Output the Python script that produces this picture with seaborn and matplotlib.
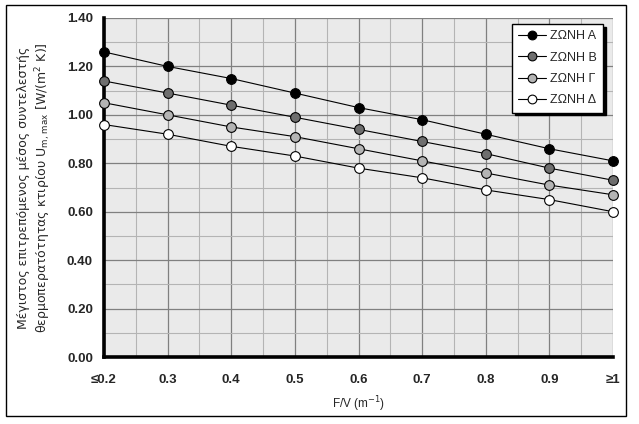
import matplotlib
matplotlib.use("Agg")
import matplotlib.pyplot as plt
import seaborn as sns
import pandas as pd
from matplotlib.patches import Rectangle
from matplotlib.ticker import MultipleLocator, FormatStrFormatter

fv = [0.2, 0.3, 0.4, 0.5, 0.6, 0.7, 0.8, 0.9, 1.0]
tick_labels = ["≤0.2", "0.3", "0.4", "0.5", "0.6", "0.7", "0.8", "0.9", "≥1"]
zone_a = [1.26, 1.20, 1.15, 1.09, 1.03, 0.98, 0.92, 0.86, 0.81]
zone_b = [1.14, 1.09, 1.04, 0.99, 0.94, 0.89, 0.84, 0.78, 0.73]
zone_g = [1.05, 1.00, 0.95, 0.91, 0.86, 0.81, 0.76, 0.71, 0.67]
zone_d = [0.96, 0.92, 0.87, 0.83, 0.78, 0.74, 0.69, 0.65, 0.60]
names = ["ΖΩΝΗ Α", "ΖΩΝΗ Β", "ΖΩΝΗ Γ", "ΖΩΝΗ Δ"]
faces = ["#000000", "#6e6e6e", "#b4b4b4", "#ffffff"]

sns.set_style("white")
plt.rcParams['font.family'] = ['Liberation Sans', 'DejaVu Sans']

fig = plt.figure(figsize=(6.39, 4.24), dpi=100)
ax = fig.add_axes([104/639, 1-357/424, (613-104)/639, (357-18)/424])
ax.set_facecolor("#eaeaea")

for name, vals, fc in zip(names, [zone_a, zone_b, zone_g, zone_d], faces):
    df = pd.DataFrame({"x": fv, "y": vals})
    sns.lineplot(data=df, x="x", y="y", ax=ax, color="black", lw=0.8,
                 marker="o", markersize=7, markerfacecolor=fc,
                 markeredgecolor="black", markeredgewidth=0.8,
                 label=name, clip_on=False, zorder=5)

ax.set_xticks(fv)
ax.set_xticklabels(tick_labels)
ax.xaxis.set_minor_locator(MultipleLocator(0.05))
ax.set_yticks([0, 0.2, 0.4, 0.6, 0.8, 1.0, 1.2, 1.4])
ax.yaxis.set_major_formatter(FormatStrFormatter("%.2f"))
ax.yaxis.set_minor_locator(MultipleLocator(0.1))
ax.set_xlim(0.2, 1.0)
ax.set_ylim(0, 1.4)
ax.grid(which="major", color="#808080", lw=0.9)
ax.grid(which="minor", color="#b4b4b4", lw=0.8)
ax.set_axisbelow(True)

for s in ["top", "right"]:
    ax.spines[s].set_visible(False)
for s in ["left", "bottom"]:
    ax.spines[s].set_linewidth(2.6)
    ax.spines[s].set_color("black")

ax.tick_params(axis="y", which="major", direction="out", length=4, width=2.5, color="black",
               labelsize=9.5, pad=4)
ax.tick_params(axis="x", which="major", direction="out", length=4, width=2.5, color="black",
               labelsize=9.5, pad=8)
ax.tick_params(which="minor", length=0)
for lab in ax.get_xticklabels() + ax.get_yticklabels():
    lab.set_fontweight("bold")

ax.set_xlabel("F/V (m$^{-1}$)", fontsize=8.5, labelpad=6)
ax.set_ylabel("Μέγιστος επιτρεπόμενος μέσος συντελεστής\nθερμοπερατότητας κτιρίου U$_{\\mathrm{m,\\,max}}$ [W/(m$^{2}$ K)]",
              fontsize=9, family="DejaVu Sans", labelpad=10, linespacing=1.2)

leg = ax.legend(loc="upper right", bbox_to_anchor=(0.985, 0.99), frameon=True,
                fancybox=False, shadow={"color": "black", "alpha": 1},
                fontsize=9, handlelength=2.2, borderpad=0.5, labelspacing=0.75,
                handletextpad=0.3, borderaxespad=0.2, markerscale=0.9)
leg.get_frame().set_edgecolor("black")
leg.get_frame().set_linewidth(1.0)
leg.get_frame().set_facecolor("white")
leg.get_frame().set_alpha(1)
leg.set_zorder(10)

fig.patches.append(Rectangle((6/639, 1-416/424), (626-6)/639, (416-5)/424,
                             transform=fig.transFigure, fill=False,
                             edgecolor="black", lw=1.0))

fig.savefig("out.png", dpi=100)
